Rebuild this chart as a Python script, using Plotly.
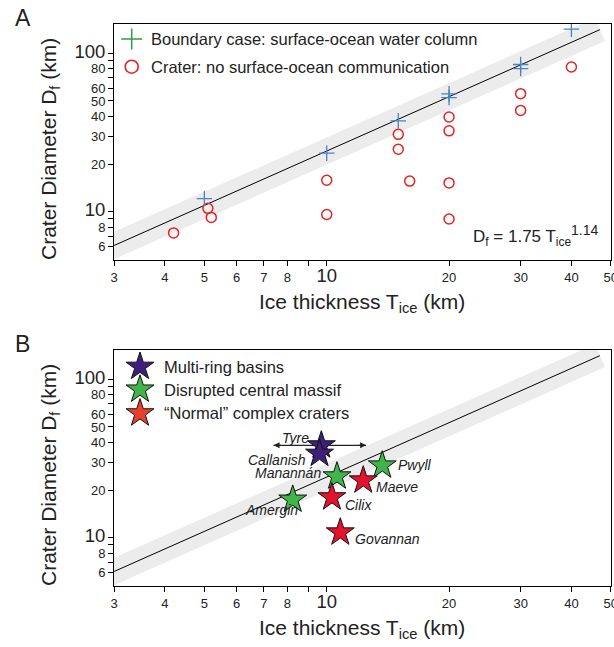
import numpy as np
import plotly.graph_objects as go

# ---------------- data ----------------
# Panel A: boundary cases (surface-ocean water column)
bound_T = [5, 10, 15, 20, 20, 30, 30, 40]
bound_D = [12.1, 23.4, 37.5, 55.5, 52.5, 85, 80, 142]
# Panel A: craters with no surface-ocean communication
crater_T = [4.2, 5.1, 5.2, 10, 10, 15, 15, 16, 20, 20, 20, 20, 30, 30, 40]
crater_D = [7.35, 10.5, 9.2, 15.8, 9.6, 30.8, 24.8, 15.6, 39.6, 32.4, 15.2, 9.0, 55.6, 43.6, 82]

# fit: Df = 1.75 * Tice^1.14
fit_a = 1.75
fit_b = 1.14
fit_T = [3, 47]
band_T = [2.5, 47]

# Panel B: Europa craters
crater_names = ["Tyre", "Callanish", "Manannán", "Pwyll", "Amergin", "Maeve", "Cilix", "Govannan"]
crater_type = ["multi", "multi", "massif", "massif", "massif", "normal", "normal", "normal"]
crater_Tice = [9.7, 9.6, 10.6, 13.7, 8.25, 12.3, 10.3, 10.8]
crater_Df = [38.3, 33.9, 24.4, 28.6, 17.4, 23.0, 18.0, 10.8]
tyre_T_range = [7.4, 12.5]

type_names = {"multi": "Multi-ring basins", "massif": "Disrupted central massif",
              "normal": "\u201cNormal\u201d complex craters"}
type_colors = {"multi": "#3e1f7c", "massif": "#3fb54a", "normal": "#e3122d"}
legend_colors = {"multi": "#3e1f7c", "massif": "#3fb54a", "normal": "#e8402c"}

x_ticks = [3, 4, 5, 6, 7, 8, 9, 10, 20, 30, 40, 50]
y_ticks = [6, 7, 8, 9, 10, 20, 30, 40, 50, 60, 70, 80, 90, 100]

# ---------------- styling / layout ----------------
W, H = 614, 647
L, R = 114, 611
FONT = "Liberation Sans"
BIG = '<span style="font-size:18.5px">%s</span>'

def xt(v):
    if v in (9,):
        return ""
    return BIG % v if v == 10 else str(v)

def yt(v):
    if v in (7, 9, 70, 90):
        return ""
    return BIG % v if v in (10, 100) else str(v)

panels = {"A": (24, 260), "B": (350, 586)}
ylog_bottom = 0.6951
ylog_top = 2.185

fig = go.Figure()

def fit(T):
    return [fit_a * t ** fit_b for t in T]

axis_common = dict(type="log", showline=True, linecolor="black", linewidth=1, mirror=True,
                   ticks="outside", ticklen=5, tickcolor="black", tickwidth=1,
                   showgrid=False, zeroline=False, ticklabeloverflow="allow", automargin=False,
                   tickfont=dict(family=FONT, size=13, color="#222"))

for i, key in enumerate(["A", "B"]):
    xa = "x" if i == 0 else "x2"
    ya = "y" if i == 0 else "y2"
    # band + fit line
    fig.add_trace(go.Scatter(x=band_T, y=fit(band_T), mode="lines", xaxis=xa, yaxis=ya,
                             line=dict(color="#ececec", width=25), showlegend=False, hoverinfo="skip"))
    fig.add_trace(go.Scatter(x=fit_T, y=fit(fit_T), mode="lines", xaxis=xa, yaxis=ya,
                             line=dict(color="black", width=1), showlegend=False, hoverinfo="skip"))

# Panel A points
fig.add_trace(go.Scatter(x=crater_T, y=crater_D, mode="markers", xaxis="x", yaxis="y",
                         marker=dict(symbol="circle-open", size=10, color="#e52222", line=dict(width=1.5)),
                         showlegend=False))
fig.add_trace(go.Scatter(x=bound_T, y=bound_D, mode="markers", xaxis="x", yaxis="y",
                         marker=dict(symbol="cross-thin-open", size=11, color="#4a82c4",
                                     line=dict(width=1.3, color="#4a82c4")),
                         showlegend=False))

# Panel B: Tyre range line (under stars)
tyre_D = crater_Df[0]
fig.add_trace(go.Scatter(x=tyre_T_range, y=[tyre_D, tyre_D], mode="lines", xaxis="x2", yaxis="y2",
                         line=dict(color="#222", width=1.2), showlegend=False, hoverinfo="skip"))
for side, sgn in ((0, 1), (1, -1)):
    fig.add_annotation(x=np.log10(tyre_T_range[side]), y=np.log10(tyre_D), xref="x2", yref="y2",
                       ax=sgn * 9, ay=0, axref="pixel", ayref="pixel", text="", showarrow=True,
                       arrowhead=2, arrowsize=1, arrowwidth=1.2, arrowcolor="#222")

for t in ["multi", "massif", "normal"]:
    idx = [k for k, c in enumerate(crater_type) if c == t]
    fig.add_trace(go.Scatter(x=[crater_Tice[k] for k in idx], y=[crater_Df[k] for k in idx],
                             mode="markers", xaxis="x2", yaxis="y2",
                             marker=dict(symbol="star", size=21, color=type_colors[t],
                                         line=dict(color="#111", width=1)),
                             showlegend=False))

# crater labels: (xanchor, xshift, yshift)
label_pos = {"Tyre": ("right", -10, 7), "Callanish": ("right", -12, -6), "Manannán": ("right", -14, 3),
             "Pwyll": ("left", 14, 0), "Maeve": ("left", 11, -7), "Cilix": ("left", 11, -8),
             "Amergin": ("left", -50, -10), "Govannan": ("left", 13, -7)}
for n, T, D in zip(crater_names, crater_Tice, crater_Df):
    xa_, xs, ys = label_pos[n]
    fig.add_annotation(x=np.log10(T), y=np.log10(D), xref="x2", yref="y2", text="<i>%s</i>" % n,
                       showarrow=False, xanchor=xa_, yanchor="middle", xshift=xs, yshift=ys,
                       font=dict(family=FONT, size=14, color="#222"))

# pixel overlay axis for legends / text
fig.add_trace(go.Scatter(x=[131.7], y=[39], mode="markers", xaxis="x3", yaxis="y3",
                         marker=dict(symbol="cross-thin-open", size=15, color="#2e9e44",
                                     line=dict(width=1.5, color="#2e9e44")), showlegend=False))
fig.add_trace(go.Scatter(x=[131.7], y=[66.7], mode="markers", xaxis="x3", yaxis="y3",
                         marker=dict(symbol="circle-open", size=13, color="#e52222", line=dict(width=1.6)),
                         showlegend=False))
for t, yy in zip(["multi", "massif", "normal"], [366.7, 389.5, 413.3]):
    fig.add_trace(go.Scatter(x=[140], y=[yy], mode="markers", xaxis="x3", yaxis="y3",
                             marker=dict(symbol="star", size=21, color=legend_colors[t],
                                         line=dict(color="#111", width=1)), showlegend=False))
    fig.add_annotation(x=161.5, y=yy, xref="x3", yref="y3", text=type_names[t], showarrow=False,
                       xanchor="left", yanchor="middle", font=dict(family=FONT, size=16.5, color="#222"))

fig.add_annotation(x=149.3, y=39, xref="x3", yref="y3", text="Boundary case: surface-ocean water column",
                   showarrow=False, xanchor="left", yanchor="middle", font=dict(family=FONT, size=16.5, color="#222"))
fig.add_annotation(x=149.3, y=66.7, xref="x3", yref="y3", text="Crater: no surface-ocean communication",
                   showarrow=False, xanchor="left", yanchor="middle", font=dict(family=FONT, size=16.5, color="#222"))

# formula
fig.add_annotation(x=601, y=235, xref="x3", yref="y3",
                   text='D<sub>f</sub> = 1.75 T<sub>ice</sub><sup><span style="font-size:14px">1.14</span></sup>',
                   showarrow=False, xanchor="right", yanchor="middle", font=dict(family=FONT, size=17, color="#222"))

# titles & panel letters
for key, (top, bot) in panels.items():
    fig.add_annotation(x=13, y=top - 6, xref="paper", yref="y3", text=key, showarrow=False,
                       xanchor="left", yanchor="middle", font=dict(family=FONT, size=23, color="#222"),
                       )
    fig.add_annotation(x=362, y=bot + 43, xref="x3", yref="y3", text="Ice thickness T<sub>ice</sub> (km)",
                       showarrow=False, xanchor="center", yanchor="middle",
                       font=dict(family=FONT, size=21, color="#222"))
    fig.add_annotation(x=50, y=(top + bot) / 2 + 7, xref="paper", yref="y3",
                       text="Crater Diameter D<sub>f</sub> (km)", textangle=-90,
                       showarrow=False, xanchor="center", yanchor="middle",
                       font=dict(family=FONT, size=21, color="#222"))

# fix paper x refs (convert pixels to paper fraction)
for a in fig.layout.annotations:
    if a.xref == "paper":
        a.x = (a.x - L) / (R - L)

xr = [np.log10(3) - 0.0005, np.log10(50) + 0.0005]
yr = [ylog_bottom, ylog_top]
domA = [1 - 260 / H, 1 - 24 / H]
domB = [1 - 586 / H, 1 - 350 / H]

fig.update_layout(
    width=W, height=H, margin=dict(l=L, r=W - R, t=0, b=0, autoexpand=False),
    paper_bgcolor="white", plot_bgcolor="rgba(0,0,0,0)", showlegend=False,
    xaxis=dict(axis_common, range=xr, domain=[0, 1], anchor="y",
               tickvals=x_ticks, ticktext=[xt(v) for v in x_ticks]),
    yaxis=dict(axis_common, range=yr, domain=domA, anchor="x",
               tickvals=y_ticks, ticktext=[yt(v) for v in y_ticks]),
    xaxis2=dict(axis_common, range=xr, domain=[0, 1], anchor="y2",
                tickvals=x_ticks, ticktext=[xt(v) for v in x_ticks]),
    yaxis2=dict(axis_common, range=yr, domain=domB, anchor="x2",
                tickvals=y_ticks, ticktext=[yt(v) for v in y_ticks]),
    xaxis3=dict(range=[L, R], domain=[0, 1], visible=False, anchor="y3", fixedrange=True),
    yaxis3=dict(range=[H, 0], domain=[0, 1], visible=False, anchor="x3", fixedrange=True),
)

fig.write_html("out.html")
